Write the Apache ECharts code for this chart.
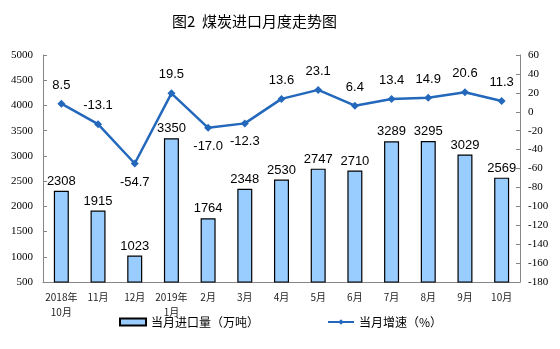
<!DOCTYPE html>
<html><head><meta charset="utf-8">
<script src="https://cdn.jsdelivr.net/npm/echarts@6/dist/echarts.min.js"></script>
<style>html,body{margin:0;padding:0;background:#fff}#c{width:560px;height:349px}</style>
</head><body><div id="c"></div>
<script>
const categories = ['2018年\n10月','11月','12月','2019年\n1月','2月','3月','4月','5月','6月','7月','8月','9月','10月'];
const importVolume = [2308,1915,1023,3350,1764,2348,2530,2747,2710,3289,3295,3029,2569];
const growthRate = [8.5,-13.1,-54.7,19.5,-17.0,-12.3,13.6,23.1,6.4,13.4,14.9,20.6,11.3];
const labelBelow = [false,false,true,false,true,true,false,false,false,false,false,false,false];
const leftTicks = {min:500,max:5000,interval:500};
const rightTicks = {min:-180,max:60,interval:20};
const serif = '"Liberation Serif","DejaVu Serif",serif';
const cjk = '"Noto Sans CJK SC",sans-serif';
const chart = echarts.init(document.getElementById('c'));
chart.setOption({
  animation:false,
  title:{text:'图2  煤炭进口月度走势图',left:167,top:9,textStyle:{fontFamily:cjk,fontSize:15,fontWeight:'normal',color:'#000'}},
  legend:{left:114,top:311,itemGap:68,itemWidth:26,itemHeight:7,textStyle:{fontFamily:cjk,fontSize:12,color:'#000'},
    data:[{name:'当月进口量（万吨）',icon:'rect'},{name:'当月增速（%）'}]},
  grid:{left:43,right:40,top:55,bottom:67},
  xAxis:{type:'category',data:categories,
    axisLine:{onZero:false,lineStyle:{color:'#868686'}},
    axisTick:{inside:true,length:3,lineStyle:{color:'#868686'}},
    axisLabel:{interval:0,fontFamily:cjk,fontSize:10,color:'#222',margin:8,lineHeight:15}},
  yAxis:[
    {type:'value',min:leftTicks.min,max:leftTicks.max,interval:leftTicks.interval,splitLine:{show:false},
      axisLine:{show:true,lineStyle:{color:'#868686'}},axisTick:{show:true,inside:true,length:4,lineStyle:{color:'#868686'}},
      axisLabel:{fontFamily:serif,fontSize:11,color:'#000',margin:10,formatter:v=>String(v)}},
    {type:'value',min:rightTicks.min,max:rightTicks.max,interval:rightTicks.interval,splitLine:{show:false},
      axisLine:{show:true,lineStyle:{color:'#868686'}},axisTick:{show:true,inside:true,length:4,lineStyle:{color:'#868686'}},
      axisLabel:{fontFamily:serif,fontSize:11,color:'#000',margin:8,formatter:v=>String(v)}}
  ],
  series:[
    {name:'当月进口量（万吨）',type:'bar',data:importVolume,barWidth:15,yAxisIndex:0,
      itemStyle:{color:'#99CCFF',borderColor:'#000',borderWidth:1.2},
      label:{show:true,position:'top',distance:3,fontFamily:'"Liberation Sans",Arial,sans-serif',fontSize:13,color:'#000'}},
    {name:'当月增速（%）',type:'line',yAxisIndex:1,
      data:growthRate.map((v,i)=>({value:v,label:{position:labelBelow[i]?'bottom':'top'}})),
      symbol:'diamond',symbolSize:8,
      lineStyle:{color:'#2468BC',width:2.5},itemStyle:{color:'#2468BC'},
      label:{show:true,distance:8,fontFamily:'"Liberation Sans",Arial,sans-serif',fontSize:13,color:'#000',
        formatter:p=>p.value.toFixed(1)}}
  ]
});
</script></body></html>
